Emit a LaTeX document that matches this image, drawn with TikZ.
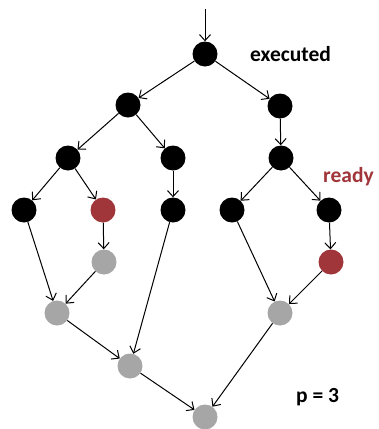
\documentclass[tikz,border=0pt]{standalone}
\usepackage{fontspec}
\setmainfont{Carlito}
\usetikzlibrary{arrows.meta}
\definecolor{redn}{HTML}{A0353A}
\definecolor{grayn}{HTML}{A6A6A6}
\begin{document}
\begin{tikzpicture}[x=1pt,y=-1pt,
  dot/.style={circle,minimum size=25pt,inner sep=0pt,draw=none},
  done/.style={dot,fill=black},
  rdy/.style={dot,fill=redn},
  wait/.style={dot,fill=grayn},
  edge/.style={line width=1pt,-{Straight Barb[length=6pt,width=11pt]}},
  lbl/.style={font=\fontsize{21.5}{25}\selectfont\bfseries,inner sep=0pt}]
\useasboundingbox (0,0) rectangle (379,429);
\node[done] (n1) at (205,54) {};
\node[done] (n2) at (128,105) {};
\node[done] (n3) at (280,106) {};
\node[done] (n4) at (68,158) {};
\node[done] (n5) at (173,158) {};
\node[done] (n6) at (281,158) {};
\node[done] (n7) at (24,210) {};
\node[rdy] (n8) at (103,210) {};
\node[done] (n9) at (173,210) {};
\node[done] (n10) at (232,210) {};
\node[done] (n11) at (329,210) {};
\node[wait] (n12) at (104,262) {};
\node[rdy] (n13) at (331,262) {};
\node[wait] (n14) at (57,313) {};
\node[wait] (n15) at (280,313) {};
\node[wait] (n16) at (130,366) {};
\node[wait] (n17) at (205,417) {};
\coordinate (s) at (205,9);
\draw[edge] (s) -- (n1);
\draw[edge] (n1) -- (n2);
\draw[edge] (n1) -- (n3);
\draw[edge] (n2) -- (n4);
\draw[edge] (n2) -- (n5);
\draw[edge] (n3) -- (n6);
\draw[edge] (n4) -- (n7);
\draw[edge] (n4) -- (n8);
\draw[edge] (n5) -- (n9);
\draw[edge] (n6) -- (n10);
\draw[edge] (n6) -- (n11);
\draw[edge] (n7) -- (n14);
\draw[edge] (n8) -- (n12);
\draw[edge] (n12) -- (n14);
\draw[edge] (n9) -- (n16);
\draw[edge] (n14) -- (n16);
\draw[edge] (n10) -- (n15);
\draw[edge] (n11) -- (n13);
\draw[edge] (n13) -- (n15);
\draw[edge] (n15) -- (n17);
\draw[edge] (n16) -- (n17);
\node[lbl,anchor=west] (ex) at (250,54) {executed};
\node[lbl,anchor=west,text=redn] (rd) at (323,177) {ready};
\node[lbl,anchor=west] (p) at (296,397) {p = 3};
\end{tikzpicture}
\end{document}
